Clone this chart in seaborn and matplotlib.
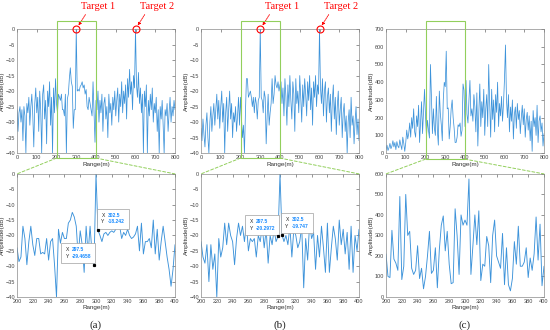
import numpy as np
import pandas as pd
import seaborn as sns
import matplotlib.pyplot as plt
from matplotlib.patches import Rectangle, ConnectionPatch
from matplotlib.offsetbox import TextArea, HPacker, VPacker, AnnotationBbox

# zoom window (m) and sampling
zoom_lo, zoom_hi = 200, 400
fine_step, coarse_step = 2.5, 5

# --- (a) dB, zoomed region 200-400 m (2.5 m samples)
zoom_a = [-24, -28.5, -27, -17, -21, -29.5, -22, -17, -23, -26.5,
          -21, -21, -26, -25.5, -26, -21, -28, -22, -21, -29.5,
          -40, -18, -22.5, -19, -21, -21, -16, -15, -12.5, -14,
          -17, -27, -18.5, -23, -32, -17, -26, -17, -26, -29.4658,
          0, -18.242, -20, -22, -19.5, -19, -20, -19, -18.5, -19,
          -18, -12, -17, -21, -19, -20, -18, -20, -21, -20.5,
          -19.5, -17, -25, -16, -26, -22, -22, -21, -24, -15,
          -26, -18, -28, -22, -17, -22, -27, -31, -36.5, -31,
          -23]
# (a) outside the zoom window (5 m samples)
left_a = [-26, -33, -27, -25, -30, -26, -36, -25, -28, -40,
          -24, -27, -22, -31, -25, -21, -28, -38, -24, -19,
          -27, -22, -33, -20, -26, -40, -21, -18, -29, -23,
          -37, -20, -25, -17, -31, -22, -40, -19, -27, -16]
right_a = [-26, -20, -30, -23, -27, -21, -33, -24, -22, -29,
           -25, -35, -21, -27, -24, -31, -22, -26, -20, -28,
           -23, -19, -30, -21, -25, -17, -27, -20, -24, -18,
           -29, -16, -22, -13, -21, -17, -26, -15, -19, 0,
           -18, -22, -14, -24, -19, -27, -21, -40, -20, -25,
           -18, -40, -23, -28, -21, -26, -19, -30, -24, -27,
           -22, -33, -26, -40, -25, -29, -23, -31, -40, -26,
           -28, -24, -33, -27, -22, -30, -25, -28, -23, -26]

# --- (b) dB
zoom_b = [-22, -27, -29, -23, -35, -23, -31, -26, -40, -21,
          -27, -24, -16, -23, -16, -20, -22, -29.5, -21, -16,
          -20, -17, -22, -16, -25, -21, -22, -21, -27, -20,
          -22, -17, -24, -18, -29, -20, -23, -18, -22, -20.2972,
          0, -19.747, -22, -20, -23, -17, -27, -18, -20, -24,
          -22, -17, -37, -21, -28, -16, -21, -19, -31, -20,
          -27, -17, -24, -32, -16, -32, -24, -17, -21, -28,
          -15, -23, -18, -26, -19, -31, -17, -32, -20, -25,
          -18]
left_b = [-32, -36, -29, -34, -38, -31, -27, -35, -40, -30,
          -25, -33, -28, -24, -31, -26, -21, -29, -23, -32,
          -25, -20, -30, -24, -40, -27, -22, -33, -26, -20,
          -29, -24, -35, -27, -30, -25, -33, -28, -22, -31]
right_b = [-17, -24, -19, -28, -16, -22, -31, -18, -25, -15,
           -23, -29, -17, -21, -33, -16, -24, -20, -27, -15,
           -22, -30, -18, -25, -16, -21, -28, -17, -23, -15,
           -26, -19, -31, -17, -22, -15, -25, -18, -21, 0,
           -19, -24, -16, -28, -20, -17, -30, -22, -19, -27,
           -21, -33, -23, -18, -29, -22, -34, -25, -20, -31,
           -26, -22, -35, -27, -24, -33, -28, -40, -30, -26,
           -35, -22, -31, -28, -37, -30, -25, -34, -29, -36]

# --- (c) linear amplitude
zoom_c = [210, 100, 95, 325, 185, 165, 130, 490, 85, 150,
          500, 300, 320, 140, 110, 130, 250, 90, 140, 40,
          100, 200, 320, 115, 130, 240, 45, 230, 350, 395,
          225, 320, 160, 65, 70, 430, 300, 110, 400, 350,
          375, 350, 575, 110, 250, 400, 255, 420, 80, 160,
          150, 295, 250, 70, 300, 375, 200, 170, 140, 310,
          60, 240, 60, 30, 90, 270, 160, 345, 150, 150,
          170, 240, 95, 190, 130, 210, 390, 180, 355, 55,
          150]
left_c = [20, 45, 15, 30, 55, 25, 40, 70, 35, 60,
          20, 65, 40, 30, 75, 45, 20, 90, 55, 10,
          60, 130, 80, 110, 170, 90, 200, 140, 250, 120,
          90, 210, 150, 270, 60, 180, 290, 110, 240, 360]
right_c = [410, 220, 170, 300, 410, 210, 250, 180, 330, 260,
           120, 340, 40, 230, 390, 150, 290, 200, 360, 100,
           250, 330, 150, 500, 280, 90, 360, 190, 300, 120,
           330, 230, 400, 150, 280, 210, 320, 180, 280, 420,
           610, 300, 200, 330, 120, 260, 180, 300, 80, 220,
           260, 140, 280, 190, 240, 110, 200, 270, 160, 250,
           90, 190, 230, 130, 210, 70, 180, 10, 240, 150,
           200, 100, 270, 60, 180, 210, 120, 170, 40, 110]

# datatips (x, y label)
tips_a = [(297.5, "-29.4658"), (302.5, "-18.242")]
tips_b = [(297.5, "-20.2972"), (302.5, "-19.747")]

x_left = np.arange(0, zoom_lo, coarse_step)
x_zoom = np.arange(zoom_lo, zoom_hi + 0.1, fine_step)
x_right = np.arange(zoom_hi + coarse_step, 800.1, coarse_step)
# full-range view uses every other zoom sample so density stays even
x_full = np.concatenate([x_left, x_zoom[::2], x_right])

sns.set_style("white")
plt.rcParams["font.family"] = ["Liberation Sans", "DejaVu Sans"]

LINE = "#3d93da"
GREEN = "#92cf5c"
SERIF = ["Liberation Serif", "DejaVu Serif"]

fig = plt.figure(figsize=(5.5, 3.3), dpi=100)
lefts = [17 / 550, 201 / 550, 386 / 550]
w = 158 / 550
top_axes = [fig.add_axes([l, 0.536, w, 0.376]) for l in lefts]
bot_axes = [fig.add_axes([l, 0.100, w, 0.373]) for l in lefts]


def style(ax):
    ax.tick_params(direction="in", top=True, right=True, length=2, width=0.4,
                   labelsize=4, colors="#444444", pad=1.5)
    for s in ax.spines.values():
        s.set_color("#8a8a8a")
        s.set_linewidth(0.5)
    ax.set_xlabel("Range(m)", fontsize=4.5, labelpad=1, color="#333333")
    ax.set_ylabel("Amplitude(dB)", fontsize=4.5, labelpad=0.5, color="#333333")


def datatip(ax, x, ylab, align, off):
    y = float(ylab)
    labels = VPacker(children=[TextArea("X", textprops=dict(size=3.6, color="#222222")),
                               TextArea("Y", textprops=dict(size=3.6, color="#222222"))],
                     align="left", pad=0, sep=1.2)
    vals = VPacker(children=[TextArea(f"{x}", textprops=dict(size=3.6, color="#1a8cff", weight="bold")),
                             TextArea(ylab, textprops=dict(size=3.6, color="#1a8cff", weight="bold"))],
                   align="left", pad=0, sep=1.2)
    box = HPacker(children=[labels, vals], align="center", pad=0, sep=2)
    ab = AnnotationBbox(box, (x, y), xybox=off, xycoords="data", boxcoords="offset points",
                        box_alignment=align, frameon=True, pad=0.3,
                        bboxprops=dict(edgecolor="#a0a0a0", facecolor="white", lw=0.5))
    ax.add_artist(ab)
    ax.plot([x], [y], "s", color="black", ms=1.3, zorder=5)


series = [(left_a, zoom_a, right_a), (left_b, zoom_b, right_b), (left_c, zoom_c, right_c)]
for i, (lft, zm, rgt) in enumerate(series):
    ax, bx = top_axes[i], bot_axes[i]
    y_full = np.concatenate([lft, zm[::2], rgt])
    sns.lineplot(x=x_full, y=y_full, ax=ax, color=LINE, linewidth=0.55, estimator=None, sort=False)
    sns.lineplot(x=x_zoom, y=zm, ax=bx, color=LINE, linewidth=0.65, estimator=None, sort=False)
    style(ax)
    style(bx)
    ax.set_xlim(0, 800)
    ax.set_xticks(range(0, 801, 100))
    bx.set_xlim(zoom_lo, zoom_hi)
    bx.set_xticks(range(zoom_lo, zoom_hi + 1, 20))
    if i < 2:
        ax.set_ylim(-40, 0)
        ax.set_yticks(range(-40, 1, 5))
        bx.set_ylim(-40, 0)
        bx.set_yticks(range(-40, 1, 5))
        r_lo, r_hi, b_top = -41.6, 2.6, 0
    else:
        ax.set_ylim(0, 700)
        ax.set_yticks(range(0, 701, 100))
        bx.set_ylim(0, 600)
        bx.set_yticks(range(0, 601, 100))
        r_lo, r_hi, b_top = -34, 745, 600

    # zoom box + connectors
    ax.add_patch(Rectangle((zoom_lo, r_lo), zoom_hi - zoom_lo, r_hi - r_lo, fill=False,
                           ec=GREEN, lw=0.8, clip_on=False, zorder=6))
    for xx in (zoom_lo, zoom_hi):
        cp = ConnectionPatch(xyA=(xx, r_lo), coordsA=ax.transData, xyB=(xx, b_top),
                             coordsB=bx.transData, linestyle=(0, (3, 2)), color=GREEN, lw=0.7)
        fig.add_artist(cp)

    if i < 2:
        for k, tx in enumerate([300, 600]):
            ax.plot([tx], [0], "o", mfc="none", mec="red", ms=5, mew=0.8, clip_on=False, zorder=7)
            ax.annotate(f"Target {k + 1}", xy=(tx, 0), xytext=(15.5, 16), textcoords="offset points",
                        ha="center", va="center", color="red", fontsize=7.5, family=SERIF,
                        annotation_clip=False,
                        arrowprops=dict(arrowstyle="-|>", color="red", lw=0.6, linestyle=(0, (1.5, 1)),
                                        shrinkA=0, shrinkB=3, mutation_scale=4, relpos=(0.2, 0.0)))

    bx.text(0.5, -0.19, f"({'abc'[i]})", transform=bx.transAxes, ha="center", va="top",
            fontsize=8, family=SERIF)

for bx, tips in ((bot_axes[0], tips_a), (bot_axes[1], tips_b)):
    (x1, y1), (x2, y2) = tips
    datatip(bx, x1, y1, (1, 0), (-2, 4))
    datatip(bx, x2, y2, (0, 0), (2.5, 4))

fig.savefig("out.png", dpi=100)
